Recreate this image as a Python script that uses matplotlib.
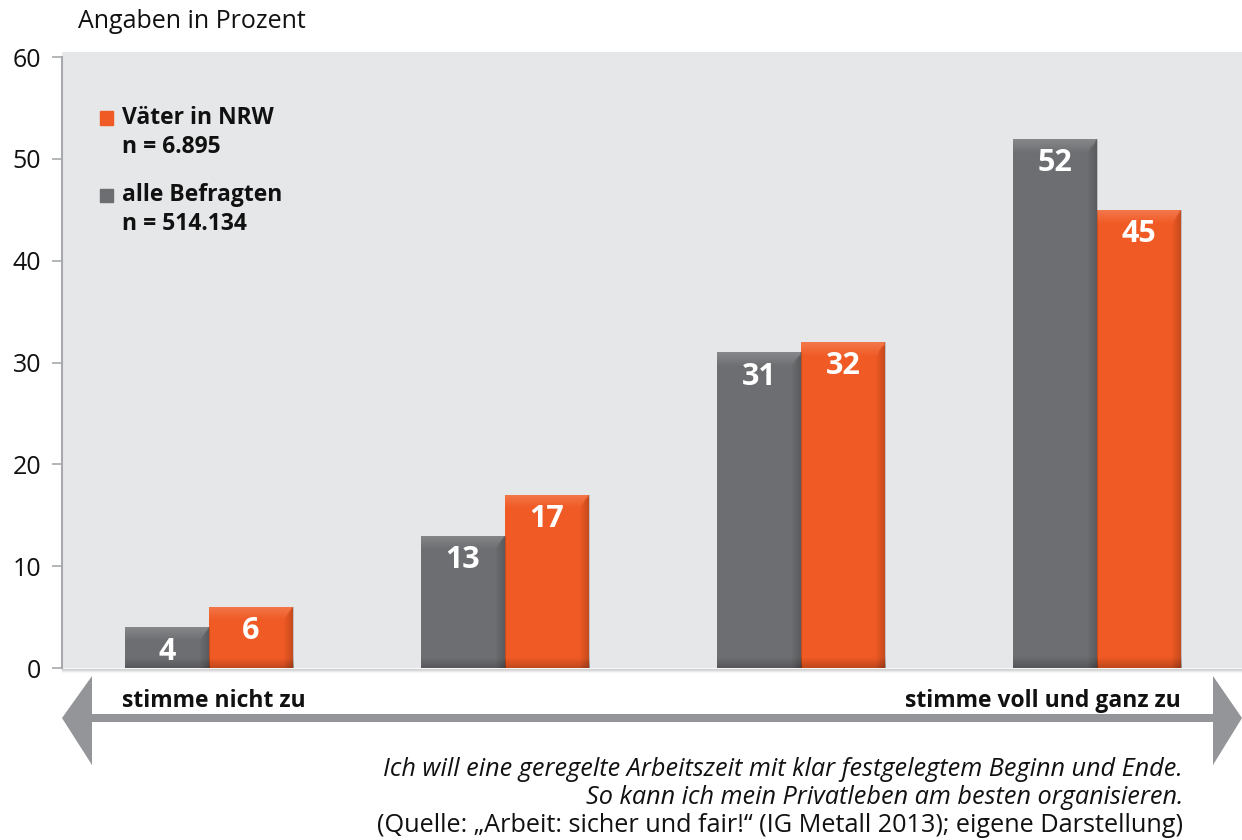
import numpy as np
import matplotlib.pyplot as plt
from matplotlib.patches import Polygon, Rectangle

plt.rcParams['font.family'] = ['Open Sans', 'DejaVu Sans']

# ---------------------------
# Daten
# ---------------------------
kategorien = ["stimme nicht zu", "", "", "stimme voll und ganz zu"]
alle_befragten = [4, 13, 31, 52]
vaeter_nrw = [6, 17, 32, 45]
y_ticks = [0, 10, 20, 30, 40, 50, 60]
serie_namen = ["Väter in NRW", "alle Befragten"]
serie_n = ["n = 6.895", "n = 514.134"]
caption = ["Ich will eine geregelte Arbeitszeit mit klar festgelegtem Beginn und Ende.",
           "So kann ich mein Privatleben am besten organisieren."]
quelle = "(Quelle: „Arbeit: sicher und fair!“ (IG Metall 2013); eigene Darstellung)"

GRAU = "#6d6e71"
ORANGE = "#f05a24"
BG = "#e6e7e8"
PFEIL = "#939598"

W, H = 1242, 840


def px(x, y):
    """Pixelposition -> Figurkoordinaten"""
    return (x / W, 1 - y / H)


fig = plt.figure(figsize=(W / 100, H / 100), dpi=100)
ax = fig.add_axes([62 / W, 1 - 668 / H, (W - 62) / W, (668 - 52) / H])
ax.set_facecolor(BG)

x = np.arange(len(kategorien))
bw = 0.284


def shade(bar):
    """leichte Schattierung im Balken"""
    x0, y0 = bar.get_x(), bar.get_y()
    w, h = bar.get_width(), bar.get_height()
    ny, nx = 200, 60
    ov = np.zeros((ny, nx, 4))
    yy = np.linspace(0, 1, ny)[:, None]   # 0 oben, 1 unten
    xx = np.linspace(0, 1, nx)[None, :]
    hpx = h * 10.18
    top = np.clip(1 - yy * hpx / 14, 0, 1)
    bot = np.clip(1 - (1 - yy) * hpx / 10, 0, 1)
    right = np.clip((xx - 0.88) / 0.12, 0, 1)
    dark = np.clip(0.18 * right + 0.2 * bot, 0, 0.35)
    light = 0.18 * top
    ov[..., :3] = np.where(light > dark, 1.0, 0.0)[..., None] * np.ones(3)
    ov[..., 3] = np.maximum(light, dark)
    im = ax.imshow(ov, extent=(x0, x0 + w, y0, y0 + h), aspect="auto",
                   zorder=3, interpolation="bilinear")
    im.set_clip_path(bar)


bars_g = ax.bar(x - bw / 2, alle_befragten, bw, color=GRAU, zorder=2)
bars_o = ax.bar(x + bw / 2, vaeter_nrw, bw, color=ORANGE, zorder=2)
for b in list(bars_g) + list(bars_o):
    shade(b)

for bars, vals in [(bars_g, alle_befragten), (bars_o, vaeter_nrw)]:
    for b, v in zip(bars, vals):
        ax.annotate(str(v), (b.get_x() + b.get_width() / 2, v),
                    xytext=(0, -17.5), textcoords="offset points",
                    ha="center", va="center", color="white",
                    fontsize=22, fontweight="bold", zorder=5)

ax.set_xlim(-0.497, 3.49)
ax.set_ylim(0, 60.5)
ax.set_yticks(y_ticks)
ax.set_xticks([])
for s in ["top", "right", "bottom"]:
    ax.spines[s].set_visible(False)
ax.spines["left"].set_color("#a7a9ac")
ax.spines["left"].set_linewidth(1.5)
ax.spines["left"].set_bounds(0, 60)
ax.tick_params(axis="y", length=7, width=1.2, color="#a7a9ac",
               labelsize=18, pad=8, labelcolor="#111111")

# Schatten unter der Fläche
for i, a in enumerate([0.35, 0.22, 0.12, 0.05]):
    fig.add_artist(plt.Line2D([px(62, 0)[0], 1], [px(0, 669 + i)[1]] * 2,
                              color="#888888", alpha=a, lw=1))

# Titel
fig.text(*px(78, 22), "Angaben in Prozent", fontsize=18, va="center",
         color="#111111")

# Legende
farben = [ORANGE, GRAU]
for i, (name, n, c) in enumerate(zip(serie_namen, serie_n, farben)):
    y0 = 118 + i * 77
    fig.add_artist(Rectangle(px(100, y0 + 6.5), 13 / W, 13 / H,
                             transform=fig.transFigure, color=c))
    fig.text(*px(122, y0), name, fontsize=16.5, fontweight="bold",
             va="center", color="#111111")
    fig.text(*px(122, y0 + 29), n, fontsize=16.5, fontweight="bold",
             va="center", color="#111111")

# Doppelpfeil
shaft_y = 718
pts = [(62, shaft_y), (92, 676), (92, shaft_y - 4), (1213, shaft_y - 4),
       (1213, 676), (1242, shaft_y), (1213, 765), (1213, shaft_y + 4),
       (92, shaft_y + 4), (92, 765)]
fig.add_artist(Polygon([px(*p) for p in pts], closed=True,
                       transform=fig.transFigure, color=PFEIL, lw=0))
fig.text(*px(122, 701), kategorien[0], fontsize=16.5, fontweight="bold",
         va="center", ha="left", color="#111111")
fig.text(*px(1181, 701), kategorien[-1], fontsize=16.5, fontweight="bold",
         va="center", ha="right", color="#111111")

# Bildunterschrift
for i, line in enumerate(caption):
    fig.text(*px(1183, 770 + i * 28), line, fontsize=18.2, style="italic",
             ha="right", va="center", color="#111111")
fig.text(*px(1183, 826), quelle, fontsize=18.2, ha="right", va="center",
         color="#111111")

fig.savefig("out.png", dpi=100)
